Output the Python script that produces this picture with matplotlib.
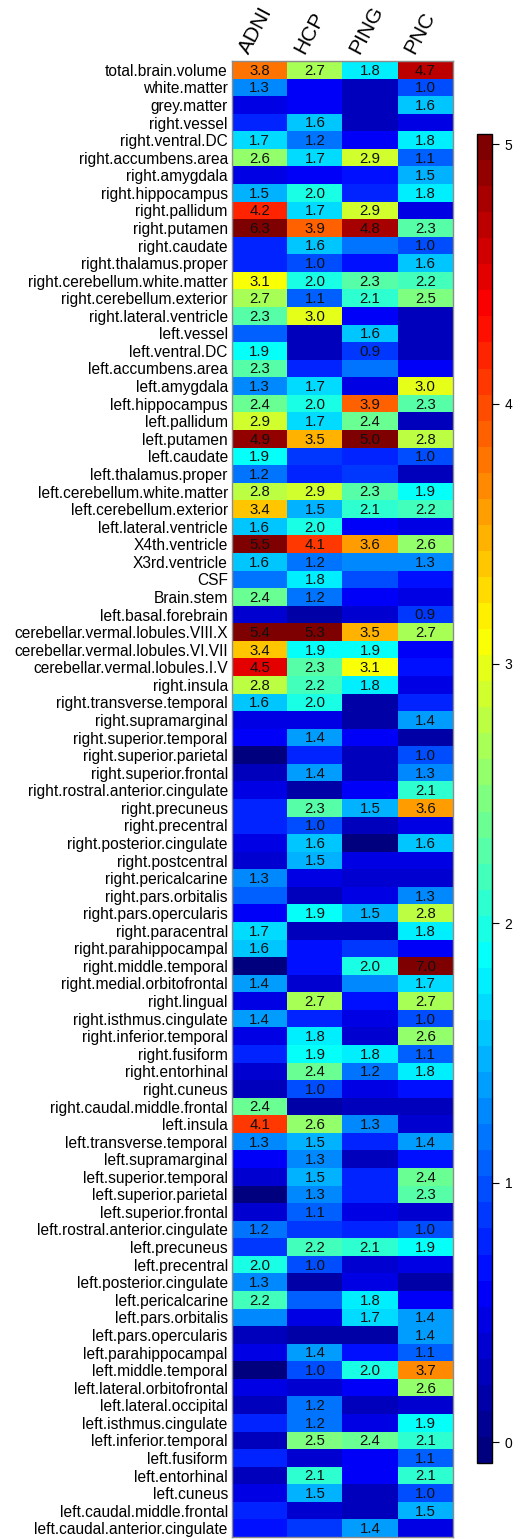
import numpy as np
import matplotlib
matplotlib.use('Agg')
import matplotlib.pyplot as plt
from matplotlib.colors import LinearSegmentedColormap

plt.rcParams['font.family'] = ['Liberation Sans', 'DejaVu Sans']

# Области мозга (строки тепловой карты)
regions = [
    'total.brain.volume', 'white.matter', 'grey.matter', 'right.vessel',
    'right.ventral.DC', 'right.accumbens.area', 'right.amygdala', 'right.hippocampus',
    'right.pallidum', 'right.putamen', 'right.caudate', 'right.thalamus.proper',
    'right.cerebellum.white.matter', 'right.cerebellum.exterior', 'right.lateral.ventricle',
    'left.vessel', 'left.ventral.DC', 'left.accumbens.area', 'left.amygdala',
    'left.hippocampus', 'left.pallidum', 'left.putamen', 'left.caudate',
    'left.thalamus.proper', 'left.cerebellum.white.matter', 'left.cerebellum.exterior',
    'left.lateral.ventricle', 'X4th.ventricle', 'X3rd.ventricle', 'CSF', 'Brain.stem',
    'left.basal.forebrain', 'cerebellar.vermal.lobules.VIII.X',
    'cerebellar.vermal.lobules.VI.VII', 'cerebellar.vermal.lobules.I.V', 'right.insula',
    'right.transverse.temporal', 'right.supramarginal', 'right.superior.temporal',
    'right.superior.parietal', 'right.superior.frontal', 'right.rostral.anterior.cingulate',
    'right.precuneus', 'right.precentral', 'right.posterior.cingulate', 'right.postcentral',
    'right.pericalcarine', 'right.pars.orbitalis', 'right.pars.opercularis',
    'right.paracentral', 'right.parahippocampal', 'right.middle.temporal',
    'right.medial.orbitofrontal', 'right.lingual', 'right.isthmus.cingulate',
    'right.inferior.temporal', 'right.fusiform', 'right.entorhinal', 'right.cuneus',
    'right.caudal.middle.frontal', 'left.insula', 'left.transverse.temporal',
    'left.supramarginal', 'left.superior.temporal', 'left.superior.parietal',
    'left.superior.frontal', 'left.rostral.anterior.cingulate', 'left.precuneus',
    'left.precentral', 'left.posterior.cingulate', 'left.pericalcarine',
    'left.pars.orbitalis', 'left.pars.opercularis', 'left.parahippocampal',
    'left.middle.temporal', 'left.lateral.orbitofrontal', 'left.lateral.occipital',
    'left.isthmus.cingulate', 'left.inferior.temporal', 'left.fusiform',
    'left.entorhinal', 'left.cuneus', 'left.caudal.middle.frontal',
    'left.caudal.anterior.cingulate',
]

studies = ['ADNI', 'HCP', 'PING', 'PNC']

# Значения по исследованиям (в том же порядке, что и regions)
adni = [3.8, 1.3, 0.5, 0.75, 1.7, 2.6, 0.5, 1.5, 4.2, 6.3, 0.75, 0.8, 3.1, 2.7, 2.3,
        1.1, 1.9, 2.3, 1.3, 2.4, 2.9, 4.9, 1.9, 1.2, 2.8, 3.4, 1.6, 5.5, 1.6, 1.2, 2.4,
        0.35, 5.4, 3.4, 4.5, 2.8, 1.6, 0.45, 0.55, 0.0, 0.25, 0.5, 0.75, 0.75, 0.45, 0.4,
        1.3, 1.1, 0.6, 1.7, 1.6, 0.0, 1.4, 0.45, 1.4, 0.45, 0.75, 0.35, 0.3, 2.4,
        4.1, 1.3, 0.6, 0.4, 0.0, 0.35, 1.2, 0.9, 2.0, 1.3, 2.2, 1.3, 0.3, 0.45,
        0.0, 0.45, 0.3, 0.75, 0.3, 0.75, 0.25, 0.5, 0.75, 0.65]
hcp = [2.7, 0.55, 0.55, 1.6, 1.2, 1.7, 0.6, 2.0, 1.7, 3.9, 1.6, 1.0, 2.0, 1.1, 3.0,
       0.3, 0.3, 0.75, 1.7, 2.0, 1.7, 3.5, 0.9, 0.75, 2.9, 1.5, 2.0, 4.1, 1.2, 1.8, 1.2,
       0.2, 5.3, 1.9, 2.3, 2.2, 2.0, 0.45, 1.4, 0.75, 1.4, 0.2, 2.3, 1.0, 1.6, 1.5,
       0.45, 0.3, 1.9, 0.25, 0.65, 0.65, 0.35, 2.7, 0.75, 1.8, 1.9, 2.4, 1.0, 0.2,
       2.6, 1.5, 1.3, 1.5, 1.3, 1.1, 0.85, 2.2, 1.0, 0.2, 1.1, 0.45, 0.2, 1.4,
       1.0, 0.35, 1.2, 1.2, 2.5, 0.35, 2.1, 1.5, 0.35, 0.9]
ping = [1.8, 0.3, 0.3, 0.3, 0.55, 2.9, 0.65, 0.75, 2.9, 4.8, 1.2, 0.65, 2.3, 2.1, 0.55,
        1.6, 0.9, 1.2, 0.5, 3.9, 2.4, 5.0, 0.75, 0.9, 2.3, 2.1, 0.55, 3.6, 1.3, 1.0, 0.6,
        0.35, 3.5, 1.9, 3.1, 1.8, 0.2, 0.2, 0.55, 0.25, 0.25, 0.55, 1.5, 0.25, 0.0, 0.45,
        0.35, 0.45, 1.5, 0.25, 0.9, 2.0, 1.3, 0.65, 0.45, 0.4, 1.8, 1.2, 0.45, 0.25,
        1.3, 0.75, 0.3, 0.75, 0.75, 0.45, 0.75, 2.1, 0.35, 0.45, 1.8, 1.7, 0.2, 0.65,
        2.0, 0.6, 0.3, 0.45, 2.4, 0.55, 0.6, 0.3, 0.3, 1.4]
pnc = [4.7, 1.0, 1.6, 0.5, 1.8, 1.1, 1.5, 1.8, 0.5, 2.3, 1.0, 1.6, 2.2, 2.5, 0.3,
       0.3, 0.3, 0.6, 3.0, 2.3, 0.3, 2.8, 1.0, 0.3, 1.9, 2.2, 0.5, 2.6, 1.3, 0.65, 0.45,
       0.9, 2.7, 0.6, 0.65, 0.45, 0.75, 1.4, 0.2, 1.0, 1.3, 2.1, 3.6, 0.45, 1.6, 0.45,
       0.35, 1.3, 2.8, 1.8, 0.55, 7.0, 1.7, 2.7, 1.0, 2.6, 1.1, 1.8, 0.65, 0.3,
       0.4, 1.4, 0.65, 2.4, 2.3, 0.35, 1.0, 1.9, 0.45, 0.2, 0.6, 1.4, 1.4, 1.1,
       3.7, 2.6, 0.35, 1.9, 2.1, 1.1, 2.1, 1.0, 1.5, 0.45]

# 1 = значение подписано в клетке
adni_lab = [1, 1, 0, 0, 1, 1, 0, 1, 1, 1, 0, 0, 1, 1, 1,
            0, 1, 1, 1, 1, 1, 1, 1, 1, 1, 1, 1, 1, 1, 0, 1,
            0, 1, 1, 1, 1, 1, 0, 0, 0, 0, 0, 0, 0, 0, 0,
            1, 0, 0, 1, 1, 0, 1, 0, 1, 0, 0, 0, 0, 1,
            1, 1, 0, 0, 0, 0, 1, 0, 1, 1, 1, 0, 0, 0,
            0, 0, 0, 0, 0, 0, 0, 0, 0, 0]
hcp_lab = [1, 0, 0, 1, 1, 1, 0, 1, 1, 1, 1, 1, 1, 1, 1,
           0, 0, 0, 1, 1, 1, 1, 0, 0, 1, 1, 1, 1, 1, 1, 1,
           0, 1, 1, 1, 1, 1, 0, 1, 0, 1, 0, 1, 1, 1, 1,
           0, 0, 1, 0, 0, 0, 0, 1, 0, 1, 1, 1, 1, 0,
           1, 1, 1, 1, 1, 1, 0, 1, 1, 0, 0, 0, 0, 1,
           1, 0, 1, 1, 1, 0, 1, 1, 0, 0]
ping_lab = [1, 0, 0, 0, 0, 1, 0, 0, 1, 1, 0, 0, 1, 1, 0,
            1, 1, 0, 0, 1, 1, 1, 0, 0, 1, 1, 0, 1, 0, 0, 0,
            0, 1, 1, 1, 1, 0, 0, 0, 0, 0, 0, 1, 0, 0, 0,
            0, 0, 1, 0, 0, 1, 0, 0, 0, 0, 1, 1, 0, 0,
            1, 0, 0, 0, 0, 0, 0, 1, 0, 0, 1, 1, 0, 0,
            1, 0, 0, 0, 1, 0, 0, 0, 0, 1]
pnc_lab = [1, 1, 1, 0, 1, 1, 1, 1, 0, 1, 1, 1, 1, 1, 0,
           0, 0, 0, 1, 1, 0, 1, 1, 0, 1, 1, 0, 1, 1, 0, 0,
           1, 1, 0, 0, 0, 0, 1, 0, 1, 1, 1, 1, 0, 1, 0,
           0, 1, 1, 1, 0, 1, 1, 1, 1, 1, 1, 1, 0, 0,
           0, 1, 0, 1, 1, 0, 1, 1, 0, 0, 0, 1, 1, 1,
           1, 1, 0, 1, 1, 1, 1, 1, 1, 0]

vals = np.array([adni, hcp, ping, pnc]).T
labs = np.array([adni_lab, hcp_lab, ping_lab, pnc_lab]).T

# Палитра в духе jet.colors из R
jet = LinearSegmentedColormap.from_list(
    'jet51', ['#00007F', '#0000FF', '#007FFF', '#00FFFF', '#7FFF7F',
              '#FFFF00', '#FF7F00', '#FF0000', '#7F0000'], N=51)
norm = plt.Normalize(-0.08, 5.04)

W, H = 517, 1539
fig = plt.figure(figsize=(W / 100, H / 100), dpi=100)
ax = fig.add_axes([232 / W, 2 / H, 221 / W, 1476 / H])
im = ax.imshow(vals, cmap=jet, norm=norm, aspect='auto', interpolation='nearest')

for i in range(vals.shape[0]):
    for j in range(vals.shape[1]):
        if labs[i, j]:
            ax.text(j, i + 0.05, '%.1f' % vals[i, j], ha='center', va='center',
                    fontsize=10.8, color='#111111')

ax.set_yticks(range(len(regions)))
ax.set_yticklabels(regions, fontsize=11.2)
ax.set_xticks([])
ax.tick_params(axis='y', length=0, pad=3)
for s in ax.spines.values():
    s.set_color('#8c8c8c')
    s.set_linewidth(1.0)

# Подписи столбцов под углом
for j, name in enumerate(studies):
    ax.text(j - 0.2, -0.5 - 0.35, name, rotation=62, rotation_mode='anchor',
            ha='left', va='baseline', fontsize=15, clip_on=False)

# Цветовая шкала
cax = fig.add_axes([477 / W, 1 - 1463 / H, 15 / W, 1329 / H])
cb = fig.colorbar(im, cax=cax, ticks=range(6))
cb.ax.tick_params(labelsize=10, length=5, width=0.8, pad=4)
cb.outline.set_linewidth(1.0)

fig.savefig('out.png', dpi=100)
